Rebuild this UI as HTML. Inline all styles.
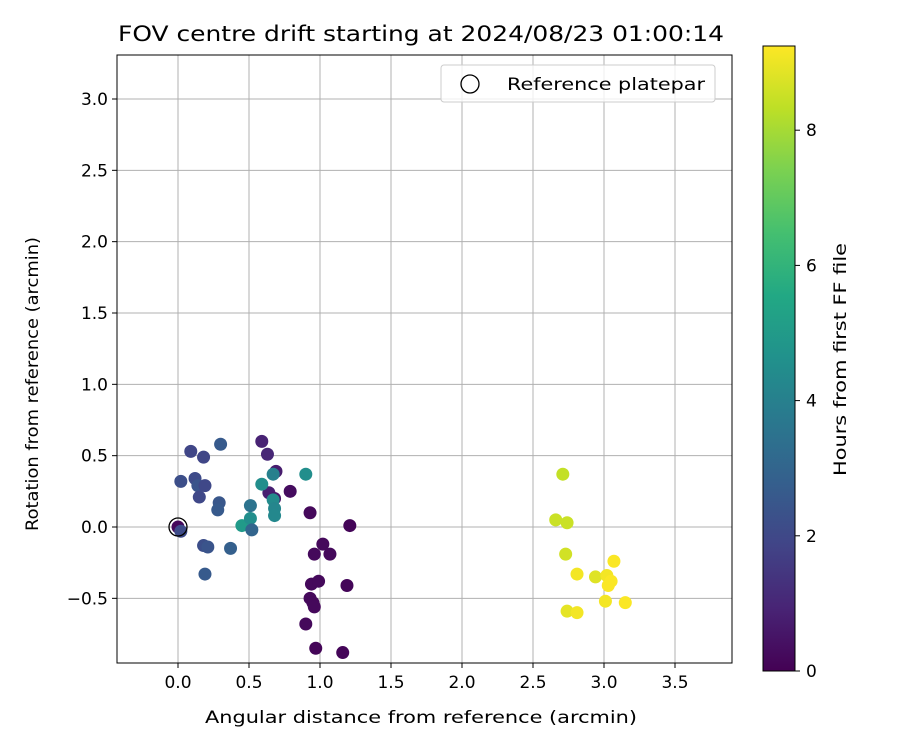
<!DOCTYPE html>
<html><head><meta charset="utf-8"><style>
html,body{margin:0;padding:0;background:#fff;}
svg text{font-family:"DejaVu Sans","Liberation Sans",sans-serif;fill:#000;}
</style></head><body>
<svg id="chart" width="900" height="750" viewBox="0 0 900 750" xmlns="http://www.w3.org/2000/svg">
<defs>
<linearGradient id="vir" x1="0" y1="1" x2="0" y2="0">
<stop offset="0" stop-color="#440154"/><stop offset="0.1" stop-color="#482475"/><stop offset="0.2" stop-color="#414487"/><stop offset="0.3" stop-color="#355f8d"/><stop offset="0.4" stop-color="#2a788e"/><stop offset="0.5" stop-color="#21918c"/><stop offset="0.6" stop-color="#22a884"/><stop offset="0.7" stop-color="#44bf70"/><stop offset="0.8" stop-color="#7ad151"/><stop offset="0.9" stop-color="#bddf26"/><stop offset="1" stop-color="#fde725"/>
</linearGradient>
</defs>
<text x="118" y="41" font-size="21" textLength="606" lengthAdjust="spacingAndGlyphs">FOV centre drift starting at 2024/08/23 01:00:14</text>
<g id="grid"></g>
<g id="pts"></g>
<rect x="117" y="55" width="615" height="608" fill="none" stroke="#000" stroke-width="1"/>
<g id="ticks"></g>
<text x="205" y="723" font-size="17" textLength="432" lengthAdjust="spacingAndGlyphs">Angular distance from reference (arcmin)</text>
<text transform="translate(38,531) rotate(-90)" font-size="17" textLength="294" lengthAdjust="spacingAndGlyphs">Rotation from reference (arcmin)</text>
<g>
<rect x="441" y="65" width="274" height="37" rx="3" fill="#fff" fill-opacity="0.8" stroke="#ccc"/>
<circle cx="470" cy="84" r="9" fill="none" stroke="#000" stroke-width="1.3"/>
<text x="507" y="90" font-size="17" textLength="198" lengthAdjust="spacingAndGlyphs">Reference platepar</text>
</g>
<rect x="763" y="46" width="32" height="625" fill="url(#vir)" stroke="#000" stroke-width="1"/>
<g id="cbticks"></g>
<text transform="translate(846,476) rotate(-90)" font-size="17" textLength="233" lengthAdjust="spacingAndGlyphs">Hours from first FF file</text>
</svg>
<script>
const xs=[0.0,0.02,0.02,0.09,0.12,0.14,0.15,0.18,0.19,0.30,0.29,0.28,0.18,0.21,0.19,0.37,
0.59,0.63,0.69,0.64,0.68,0.79,0.93,1.21,0.96,1.02,1.07,0.94,0.99,1.19,0.93,0.95,0.96,0.90,0.97,1.16,
0.45,0.51,0.51,0.52,0.59,0.67,0.67,0.68,0.68,0.90,
2.71,2.66,2.74,2.73,2.81,2.94,3.07,3.02,3.05,3.03,3.01,3.15,2.74,2.81];
const ys=[0.0,-0.03,0.32,0.53,0.34,0.29,0.21,0.49,0.29,0.58,0.17,0.12,-0.13,-0.14,-0.33,-0.15,
0.60,0.51,0.39,0.24,0.20,0.25,0.10,0.01,-0.19,-0.12,-0.19,-0.40,-0.38,-0.41,-0.50,-0.53,-0.56,-0.68,-0.85,-0.88,
0.01,0.06,0.15,-0.02,0.30,0.37,0.19,0.13,0.08,0.37,
0.37,0.05,0.03,-0.19,-0.33,-0.35,-0.24,-0.34,-0.38,-0.41,-0.52,-0.53,-0.59,-0.60];
const hours=[0.2,2.1,2.2,1.9,2.1,2.4,2.0,1.9,2.0,2.6,2.5,2.6,2.2,2.4,2.6,2.8,
0.9,1.0,0.7,0.8,0.6,0.3,0.2,0.1,0.2,0.2,0.2,0.2,0.2,0.1,0.2,0.2,0.2,0.2,0.1,0.1,
5.0,4.5,3.5,3.0,4.5,4.0,4.4,4.2,4.3,4.5,
8.4,8.5,8.5,8.6,9.1,8.8,9.2,9.1,9.2,9.2,9.1,9.2,8.9,9.1];
const xTicks=[0.0,0.5,1.0,1.5,2.0,2.5,3.0,3.5];
const yTicks=[-0.5,0.0,0.5,1.0,1.5,2.0,2.5,3.0];
const cTicks=[0,2,4,6,8];
const X=v=>178+v*142, Y=v=>527-v*142.67, CB=v=>671-v*67.6, HMAX=9.24;
const NS="http://www.w3.org/2000/svg";
const vir=[[68,1,84],[72,36,117],[65,68,135],[53,95,141],[42,120,142],[33,145,140],[34,168,132],[68,191,112],[122,209,81],[189,223,38],[253,231,37]];
function col(h){let t=Math.max(0,Math.min(1,h/HMAX))*10,i=Math.min(9,Math.floor(t)),f=t-i;const a=vir[i],b=vir[i+1];return 'rgb('+a.map((c,k)=>Math.round(c+(b[k]-c)*f)).join(',')+')';}
function mk(tag,at,parent){const e=document.createElementNS(NS,tag);for(const k in at)e.setAttribute(k,at[k]);parent.appendChild(e);return e;}
const grid=document.getElementById('grid'),ticks=document.getElementById('ticks'),pts=document.getElementById('pts'),cb=document.getElementById('cbticks');
xTicks.forEach(v=>{
const l=mk('line',{x1:X(v),x2:X(v),y1:55,y2:663,stroke:'#b0b0b0','stroke-width':1},grid);


mk('line',{x1:X(v),x2:X(v),y1:663,y2:668,stroke:'#000'},ticks);
const t=mk('text',{x:X(v),y:688,'font-size':17,'text-anchor':'middle'},ticks);t.textContent=v.toFixed(1);


});
yTicks.forEach(v=>{
const l=mk('line',{x1:117,x2:732,y1:Y(v),y2:Y(v),stroke:'#b0b0b0','stroke-width':1},grid);


mk('line',{x1:112,x2:117,y1:Y(v),y2:Y(v),stroke:'#000'},ticks);
const t=mk('text',{x:108,y:Y(v)+6,'font-size':17,'text-anchor':'end'},ticks);t.textContent=v<0?'\u2212'+Math.abs(v).toFixed(1):v.toFixed(1);


});
xs.forEach((x,i)=>{
const c=mk('circle',{cx:X(x),cy:Y(ys[i]),r:6.5,fill:col(hours[i])},pts);


});
const rm=mk('circle',{cx:X(0),cy:Y(0),r:9,fill:'none',stroke:'#000','stroke-width':1.3},pts);


cTicks.forEach(v=>{
mk('line',{x1:795,x2:800,y1:CB(v),y2:CB(v),stroke:'#000'},cb);
const t=mk('text',{x:806,y:CB(v)+6,'font-size':17},cb);t.textContent=v;


});
</script>
</body></html>
